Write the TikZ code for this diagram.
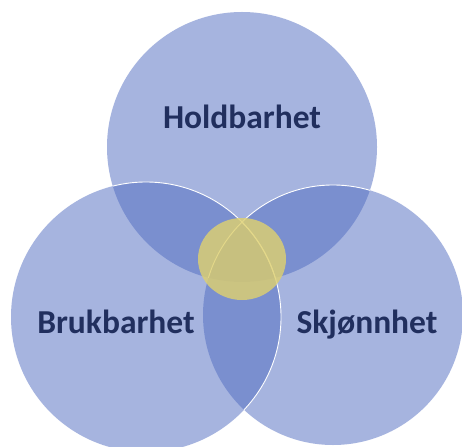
\documentclass[tikz,border=0pt]{standalone}
\usepackage{fontspec}
\setmainfont{Carlito}
\usetikzlibrary{shapes.geometric}
\definecolor{vblue}{RGB}{79,107,193}
\definecolor{vyellow}{RGB}{222,208,112}
\definecolor{vtext}{RGB}{33,47,94}
\begin{document}
\begin{tikzpicture}[x=1pt,y=-1pt,
  setfill/.style={fill=vblue,fill opacity=0.5},
  rim/.style={draw=white,line width=0.9pt},
  lbl/.style={font=\fontsize{33.5}{38}\selectfont\bfseries,text=vtext,anchor=base,inner sep=0pt}]
\useasboundingbox (0,0) rectangle (462,446);
\fill[white] (0,0) rectangle (462,446);
\clip (0,0) rectangle (462,446);
\coordinate (ct) at (242,147);
\coordinate (cl) at (146,317);
\coordinate (cr) at (333,315);
\def\rt{135}\def\rl{135}\def\rr{130}
\fill[setfill] (ct) circle[radius=\rt];
\fill[setfill] (cr) circle[radius=\rr];
\fill[setfill] (cl) circle[radius=\rl];
\begin{scope}
  \clip (ct) circle[radius=\rt];
  \draw[rim] (cr) circle[radius=\rr];
  \draw[rim] (cl) circle[radius=\rl];
\end{scope}
\begin{scope}
  \clip (cr) circle[radius=\rr];
  \draw[rim] (cl) circle[radius=\rl];
\end{scope}
\node[fill=vyellow,fill opacity=0.82,ellipse,minimum width=88pt,minimum height=82pt,inner sep=0pt] (core) at (242,259) {};
\node[lbl] (hold) at (242,129) {Holdbarhet};
\node[lbl] (bruk) at (116,333) {Brukbarhet};
\node[lbl] (skj) at (367,333) {Skjønnhet};
\end{tikzpicture}
\end{document}
